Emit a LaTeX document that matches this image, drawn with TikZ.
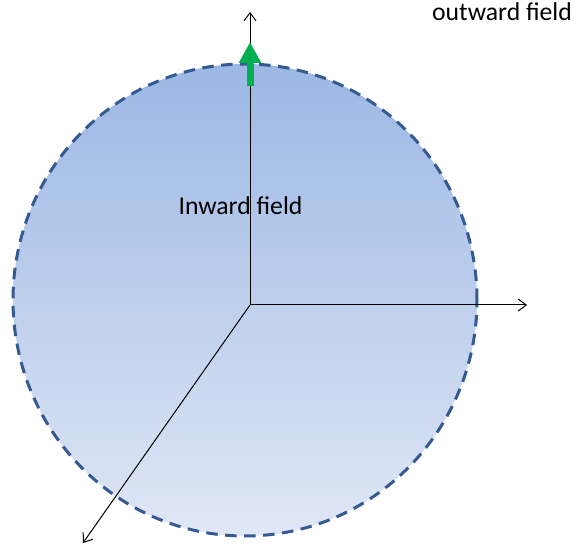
\documentclass[tikz,border=0pt]{standalone}
\usepackage{fontspec}
\setmainfont{Carlito}
\usetikzlibrary{arrows.meta}
\definecolor{circtop}{RGB}{156,183,228}
\definecolor{circbot}{RGB}{224,231,245}
\definecolor{circline}{RGB}{52,90,145}
\definecolor{fieldgreen}{RGB}{0,176,80}
\tikzset{
  axis/.style={line width=1pt, -{Straight Barb[length=8pt,width=12pt,line width=1pt]}},
  lbl/.style={font=\fontsize{25.7}{30}\selectfont, anchor=base, inner sep=0pt},
  rim/.style={draw=circline, line width=3pt, dash pattern=on 11.5pt off 7.5pt},
  fluxarrow/.style={fieldgreen, line width=7pt, -{Triangle[width=21pt,length=21pt]}}
}
\begin{document}
\begin{tikzpicture}[x=1pt,y=1pt]
\useasboundingbox (0,0) rectangle (574,550);
\shade[top color=circtop, bottom color=circbot] (245,250) ellipse [x radius=232, y radius=236];
\path[rim] (245,250) ellipse [x radius=232, y radius=236];
\coordinate (O) at (250,245);
\coordinate (up) at (250,538);
\coordinate (right) at (527,245);
\coordinate (dl) at (83,7);
\node[lbl] (inward) at (240.5,335) {Inward field};
\node[lbl] (outward) at (502,529) {outward field};
\draw[axis] (O) -- (up);
\draw[axis] (O) -- (right);
\draw[axis] (O) -- (dl);
\coordinate (gs) at (250,464);
\coordinate (ge) at (250,508);
\draw[fluxarrow] (gs) -- (ge);
\end{tikzpicture}
\end{document}
